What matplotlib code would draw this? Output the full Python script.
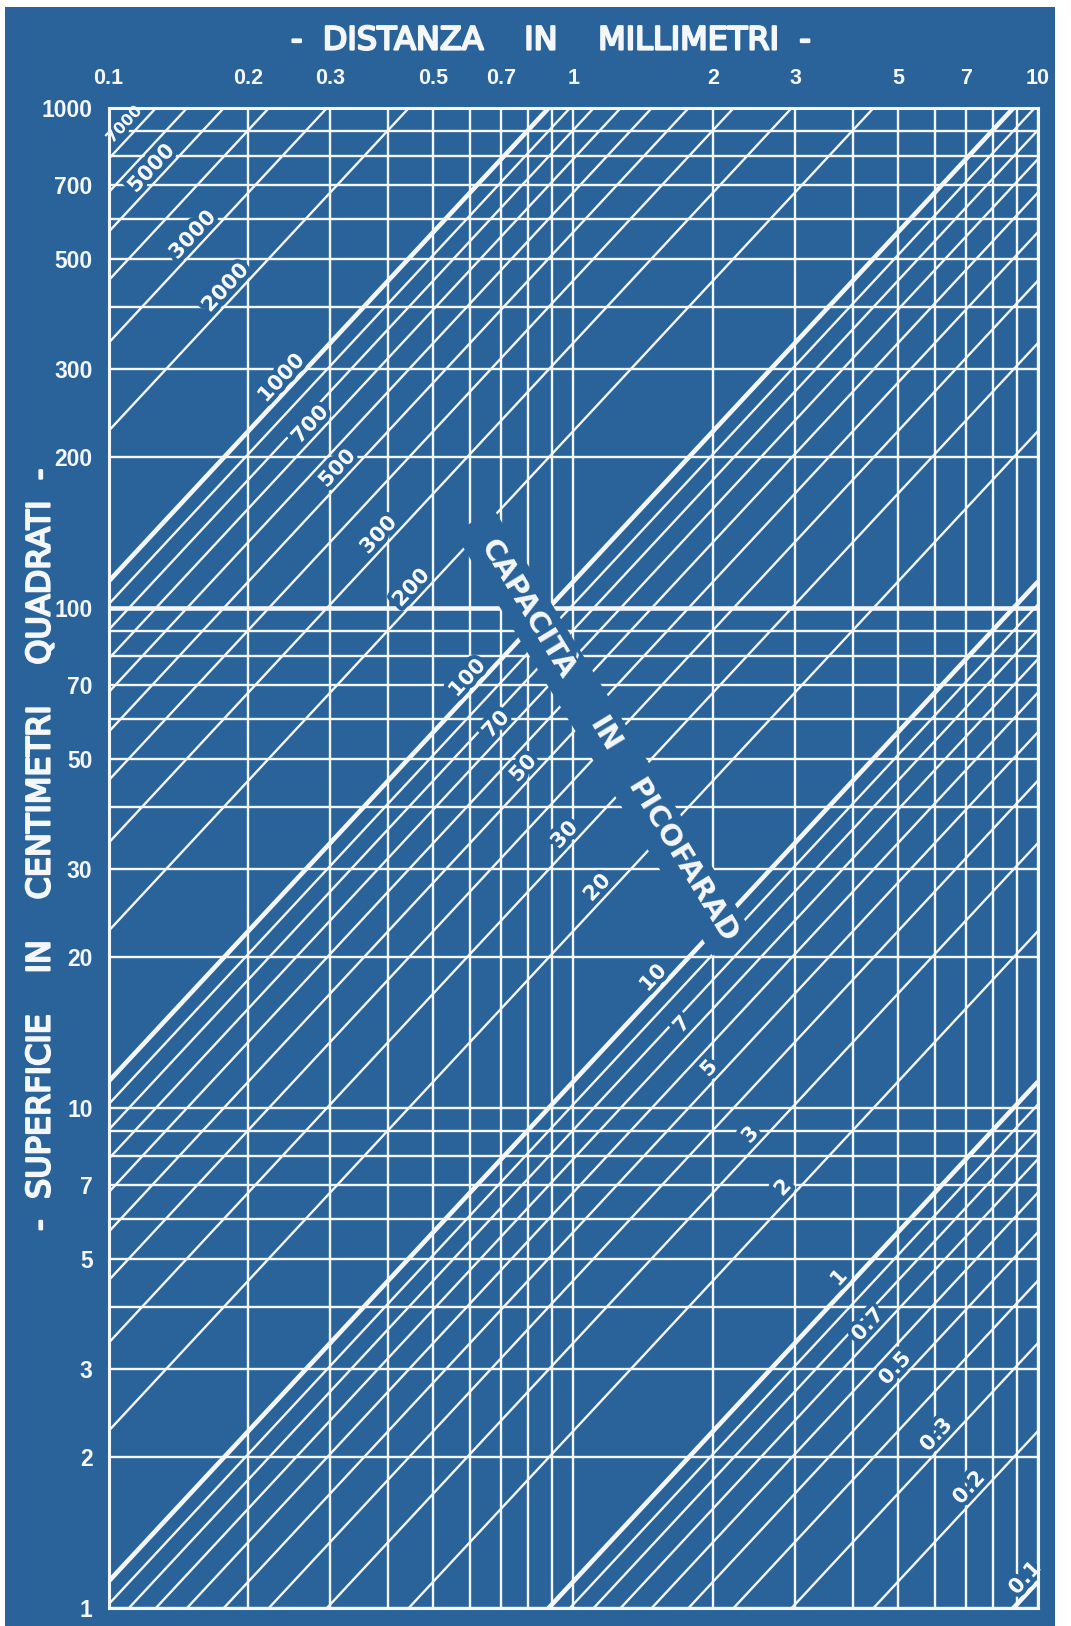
import numpy as np
import matplotlib
matplotlib.use("Agg")
import matplotlib.pyplot as plt
from matplotlib.patches import Polygon, Rectangle
from matplotlib import patheffects as pe

# ---------------------------------------------------------------------------
# Nomogram: capacity of a plane capacitor, C [pF] = K * S [cm^2] / d [mm]
# ---------------------------------------------------------------------------
K_PF = 0.8854

# grid of the two logarithmic scales
DIST_GRID_MM = [0.1, 0.2, 0.3, 0.4, 0.5, 0.6, 0.7, 0.8, 0.9,
                1, 2, 3, 4, 5, 6, 7, 8, 9, 10]
AREA_GRID_CM2 = [1, 2, 3, 4, 5, 6, 7, 8, 9,
                 10, 20, 30, 40, 50, 60, 70, 80, 90,
                 100, 200, 300, 400, 500, 600, 700, 800, 900, 1000]
HEAVY_AREA_CM2 = [100]

# constant-capacity lines
CAPACITIES_PF = [0.1, 0.2, 0.3, 0.4, 0.5, 0.6, 0.7, 0.8, 0.9,
                 1, 2, 3, 4, 5, 6, 7, 8, 9,
                 10, 20, 30, 40, 50, 60, 70, 80, 90,
                 100, 200, 300, 400, 500, 600, 700, 800, 900,
                 1000, 2000, 3000, 4000, 5000, 6000, 7000, 8000]
HEAVY_PF = [0.1, 1, 10, 100, 1000]
LABELLED_PF = [7000, 5000, 3000, 2000, 1000, 700, 500, 300, 200,
               100, 70, 50, 30, 20, 10, 7, 5, 3, 2,
               1, 0.7, 0.5, 0.3, 0.2, 0.1]

X_TICKS = [0.1, 0.2, 0.3, 0.5, 0.7, 1, 2, 3, 5, 7, 10]
X_TICK_LABELS = ["0.1", "0.2", "0.3", "0.5", "0.7", "1", "2", "3", "5", "7", "10"]
Y_TICKS = [1, 2, 3, 5, 7, 10, 20, 30, 50, 70, 100, 200, 300, 500, 700, 1000]
Y_TICK_LABELS = ["1", "2", "3", "5", "7", "10", "20", "30", "50", "70",
                 "100", "200", "300", "500", "700", "1000"]

TITLE_X = "-  DISTANZA    IN    MILLIMETRI  -"
TITLE_Y = "-  SUPERFICIE    IN    CENTIMETRI    QUADRATI  -"
BAND_WORDS = ["CAPACITÀ", "IN", "PICOFARAD"]

# ---------------------------------------------------------------------------
BLUE = "#2a6399"
INK = "#f4f7fa"
W, H = 1071, 1626
THIN, HEAVY = 1.7, 3.3

fig = plt.figure(figsize=(W / 100, H / 100), dpi=100, facecolor="white")
# the blueprint sheet (thin white margins around it)
fig.patches.append(Rectangle((5 / W, 0), (1055 - 5) / W, 1 - 7 / H,
                             transform=fig.transFigure, facecolor=BLUE,
                             edgecolor="none", zorder=-10))

ax = fig.add_axes([108.5 / W, (H - 1608) / H, 929.5 / W, 1500 / H])
ax.set_facecolor(BLUE)
ax.set_xscale("log")
ax.set_yscale("log")
ax.set_xlim(0.1, 10)
ax.set_ylim(1, 1000)

# grid
for d in DIST_GRID_MM:
    ax.axvline(d, color=INK, lw=THIN, zorder=1)
for a in AREA_GRID_CM2:
    ax.axhline(a, color=INK, lw=HEAVY if a in HEAVY_AREA_CM2 else THIN, zorder=1)

# constant-capacity lines
d_ends = np.array([0.1, 10.0])
for c in CAPACITIES_PF:
    ax.plot(d_ends, c * d_ends / K_PF, color=INK,
            lw=HEAVY if c in HEAVY_PF else THIN,
            solid_capstyle="butt", zorder=2)

for sp in ax.spines.values():
    sp.set_color(INK)
    sp.set_linewidth(2.2)
    sp.set_zorder(6)

# axes ticks
ax.minorticks_off()
ax.xaxis.tick_top()
ax.set_xticks(X_TICKS)
ax.set_xticklabels(X_TICK_LABELS)
ax.set_yticks(Y_TICKS)
ax.set_yticklabels(Y_TICK_LABELS)
ax.tick_params(axis="x", which="both", length=0, pad=13.5, colors=INK)
ax.tick_params(axis="y", which="both", length=0, pad=11.5, colors=INK)
for lbl in ax.get_xticklabels():
    lbl.set_fontfamily(["Liberation Sans", "DejaVu Sans"])
    lbl.set_fontweight("bold")
    lbl.set_fontsize(15.5)
for lbl in ax.get_yticklabels():
    lbl.set_fontfamily(["Liberation Sans", "DejaVu Sans"])
    lbl.set_fontweight("bold")
    lbl.set_fontsize(16.5)

# axis titles
thick = [pe.withStroke(linewidth=1.6, foreground=INK)]
fig.text(550.5 / W, 1 - 41 / H, TITLE_X, ha="center", va="center",
         fontsize=23, color=INK, path_effects=thick)
fig.text(41 / W, 1 - 850 / H, TITLE_Y, ha="center", va="center",
         rotation=90, rotation_mode="anchor",
         fontsize=23, color=INK, path_effects=thick)

# ---------------------------------------------------------------------------
# blank band carrying the "CAPACITÀ IN PICOFARAD" legend
px = fig.dpi / 100.0
band_start = np.array(ax.transData.transform((0.612, 149.3)))
band_end = np.array(ax.transData.transform((2.198, 21.3)))
vec = band_end - band_start
u_dir = vec / np.hypot(*vec)
n_dir = np.array([-u_dir[1], u_dir[0]])
half = 23 * px
corners = np.array([band_start + n_dir * half, band_end + n_dir * half,
                    band_end - n_dir * half, band_start - n_dir * half])
ax.add_patch(Polygon(ax.transAxes.inverted().transform(corners), closed=True,
                     transform=ax.transAxes, facecolor=BLUE,
                     edgecolor="none", zorder=3))
band_angle = np.degrees(np.arctan2(u_dir[1], u_dir[0]))
for word, s in zip(BAND_WORDS, [103, 250, 399]):
    pos = ax.transData.inverted().transform(band_start + u_dir * s * px)
    ax.text(pos[0], pos[1], word, rotation=band_angle, rotation_mode="anchor",
            ha="center", va="center", fontsize=21, fontweight="bold",
            color=INK, zorder=4)

# ---------------------------------------------------------------------------
# labels of the capacity lines, along the descending diagonal of the chart
p_lo = np.array(ax.transData.transform((0.1, 0.1 / K_PF)))
p_hi = np.array(ax.transData.transform((10.0, 10.0 / K_PF)))
ldir = (p_hi - p_lo) / np.hypot(*(p_hi - p_lo))
lnorm = np.array([-ldir[1], ldir[0]])
line_angle = np.degrees(np.arctan2(ldir[1], ldir[0]))
mask = [pe.withStroke(linewidth=6, foreground=BLUE)]


def fmt(v):
    return f"{v:g}"


for c in LABELLED_PF:
    u_ax = (4 - np.log10(c) + np.log10(K_PF)) / 5
    xy = ax.transData.inverted().transform(
        ax.transAxes.transform((u_ax, 1 - u_ax)))
    off = (ldir * 8 + lnorm * 12) * px
    ax.annotate(fmt(c), xy=xy, xytext=off, textcoords="offset pixels",
                rotation=line_angle, rotation_mode="anchor",
                ha="center", va="center",
                fontsize=11.5 if c >= 7000 else 15, fontweight="bold",
                color=INK, path_effects=mask, zorder=5,
                annotation_clip=False)

fig.savefig("out.png", dpi=100, facecolor=fig.get_facecolor())
